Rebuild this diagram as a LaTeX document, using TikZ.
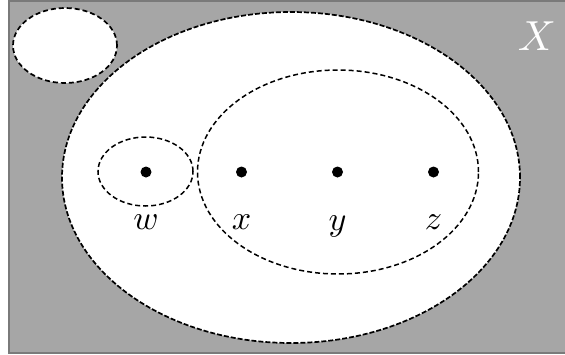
\documentclass[tikz,border=0pt]{standalone}
\usepackage{graphicx}
\usetikzlibrary{shapes.geometric}
\definecolor{bggray}{HTML}{A6A6A6}
\definecolor{edgegray}{HTML}{7A7A7A}
\tikzset{
  setline/.style={draw=black, dash pattern=on 5pt off 3pt, line width=1.5pt},
  setshape/.style={ellipse, inner sep=0pt, setline},
  pt/.style={circle, fill=black, inner sep=0pt, minimum size=11pt},
  lbl/.style={inner sep=0pt},
}
\newcommand{\biglbl}[1]{\scalebox{3.4}{$#1$}}
\begin{document}
\begin{tikzpicture}[x=1pt,y=-1pt]
\useasboundingbox (0,0) rectangle (565,354);
\fill[bggray] (9,1) rectangle (566,353);
\draw[edgegray, line width=1.5pt] (566,1) -- (9,1) -- (9,353) -- (566,353);
\node[setshape, fill=white, minimum width=458pt, minimum height=331pt, dash pattern=on 5pt off 2pt, line width=1.7pt] (big) at (291,177.5) {};
\node[setshape, fill=white, minimum width=104pt, minimum height=75pt, line width=1.7pt] (small) at (65,45.5) {};
\node[setshape, minimum width=281pt, minimum height=204pt] (inner) at (338,172) {};
\node[setshape, minimum width=95pt, minimum height=69pt] (wset) at (145.5,171.5) {};
\node[pt] (w) at (146,172) {};
\node[pt] (x) at (241.5,172) {};
\node[pt] (y) at (337.5,172) {};
\node[pt] (z) at (433.5,172) {};
\node[lbl] (wl) at (146,222) {\biglbl{w}};
\node[lbl] (xl) at (241.5,222) {\biglbl{x}};
\node[lbl] (yl) at (337.5,226) {\biglbl{y}};
\node[lbl] (zl) at (433.5,222) {\biglbl{z}};
\node[lbl, text=white] (X) at (537,36) {\scalebox{4.2}{$X$}};
\end{tikzpicture}
\end{document}
